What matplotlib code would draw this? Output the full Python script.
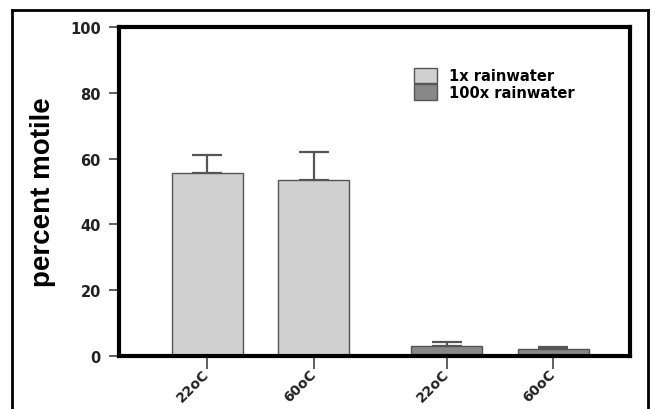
import matplotlib
matplotlib.use("Agg")
import matplotlib.pyplot as plt
from matplotlib.patches import Patch
from matplotlib.lines import Line2D

plt.rcParams['font.family'] = ['DejaVu Sans']

labels = ["22oC", "60oC", "22oC", "60oC"]
positions = [0, 1, 2.25, 3.25]
values = [55.5, 53.5, 3.0, 2.2]
errors = [5.5, 8.5, 1.2, 0.6]
groups = ["1x rainwater", "1x rainwater", "100x rainwater", "100x rainwater"]
colors = {"1x rainwater": "#d0d0d0", "100x rainwater": "#888888"}

fig = plt.figure(figsize=(6.55, 4.10), dpi=100)
ax = fig.add_axes([0.1817, 0.1293, 0.780, 0.8024])

bar_colors = [colors[g] for g in groups]
ax.bar(positions, values, width=0.67, color=bar_colors, edgecolor="#555555", linewidth=1.0, zorder=2)
ax.errorbar(positions, values, yerr=[[0]*len(errors), errors], fmt="none",
            ecolor="#555555", elinewidth=1.6, capsize=11, capthick=1.6, zorder=1)

ax.set_xlim(-0.83, 3.97)
ax.set_ylim(0, 100)
ax.set_yticks([0, 20, 40, 60, 80, 100])
ax.set_xticks(positions)
ax.set_xticklabels(labels, rotation=45, ha="right", va="center", rotation_mode="anchor",
                   fontsize=10, fontweight="bold", color="#222222")
for t in ax.get_xticklabels():
    t.set_x(t.get_position()[0])
ax.tick_params(axis="y", length=7, width=1.2, color="#444444", pad=6)
ax.tick_params(axis="x", length=9, width=1.2, color="#444444", pad=2)
for t in ax.get_yticklabels():
    t.set_fontweight("bold")
    t.set_fontsize(10.5)
    t.set_color("#222222")
for s in ax.spines.values():
    s.set_linewidth(3)
    s.set_color("black")
ax.set_ylabel("percent motile", fontsize=20, fontweight="bold", labelpad=10,
              family=["Liberation Sans", "DejaVu Sans"])

handles = [Patch(facecolor=colors[k], edgecolor="#555555", label=k) for k in ["1x rainwater", "100x rainwater"]]
ax.legend(handles=handles, loc="upper left", bbox_to_anchor=(0.557, 0.907), frameon=False,
          prop={"weight": "bold", "size": 10.5}, handlelength=1.6, handleheight=1.25,
          handletextpad=0.8, labelspacing=0.05, borderpad=0.2)

# outer frame around figure
frame_kw = dict(color="black", linewidth=2, transform=fig.transFigure, figure=fig)
x0, x1, ytop = 12/655, 648/655, 1 - 11/410
fig.lines.append(Line2D([x0, x0], [0, ytop], **frame_kw))
fig.lines.append(Line2D([x0, x1], [ytop, ytop], **frame_kw))
fig.lines.append(Line2D([x1, x1], [0, ytop], **frame_kw))

fig.savefig("out.png", dpi=100)
